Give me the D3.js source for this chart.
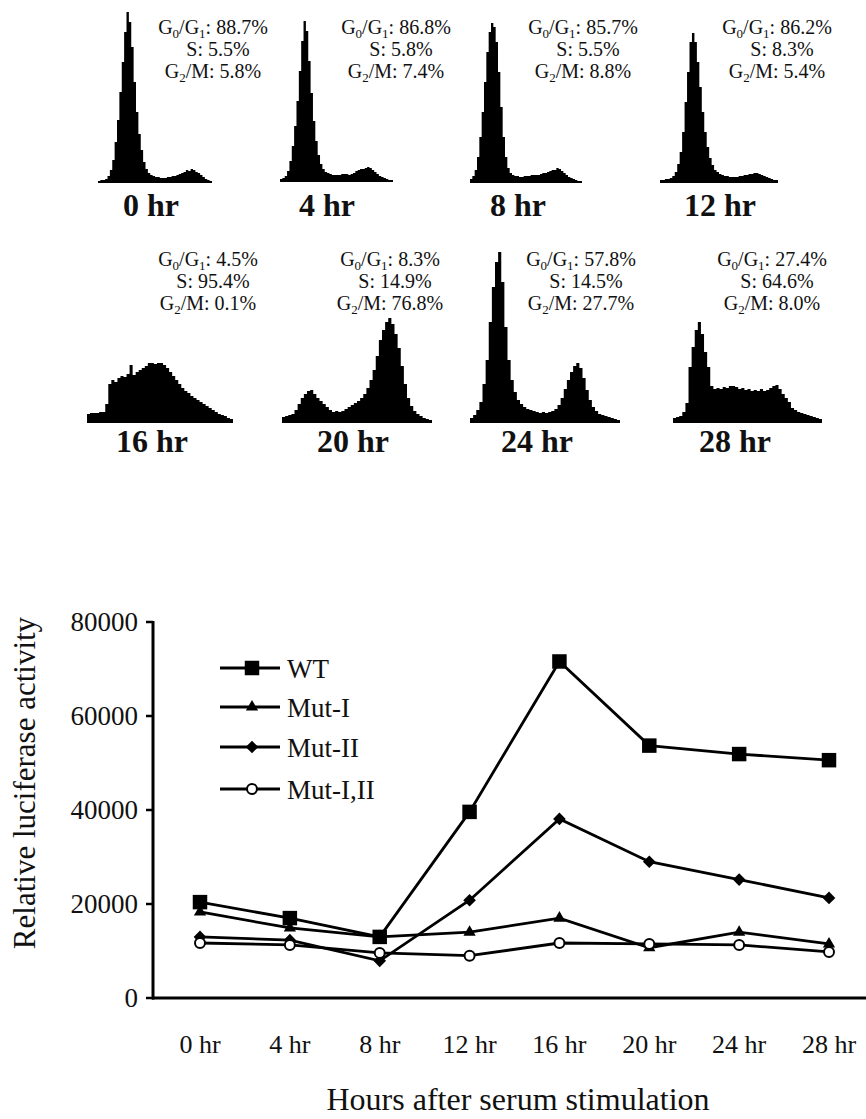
<!DOCTYPE html>
<html>
<head>
<meta charset="utf-8">
<script src="https://cdn.jsdelivr.net/npm/d3@7"></script>
<style>
  body { margin: 0; background: #fff; }
  svg, text { font-family: "Liberation Serif", "Times New Roman", serif; fill: #111; }
</style>
</head>
<body>
<script>
// flow cytometry histograms (relative cell counts per DNA-content bin)
const h0hr  = [1,2,2,3,6,12,22,40,62,90,120,150,170,160,135,100,70,48,32,20,13,9,7,6,5,5,4,4,4,5,5,6,6,7,8,9,10,12,11,13,12,10,9,7,5,3,2,1];
const h4hr  = [2,3,5,10,20,35,55,80,110,140,160,150,120,88,60,40,26,17,12,9,8,7,6,6,6,6,7,7,7,6,7,8,10,11,12,12,13,14,13,11,9,7,5,4,3,2,1,1];
const h8hr  = [3,6,12,25,45,70,100,130,150,159,155,140,110,75,45,25,14,9,7,6,6,5,5,6,6,6,7,7,7,7,8,9,9,10,11,12,12,14,13,11,9,7,5,4,3,2,1,1];
const h12hr = [2,2,3,3,4,6,10,18,30,50,80,110,140,149,140,120,95,70,50,35,24,17,12,10,8,7,6,6,5,5,5,5,6,6,7,7,8,8,9,9,8,7,6,5,4,3,2,2];
const h16hr = [8,9,9,9,10,10,18,38,42,40,44,46,45,48,57,47,50,52,54,56,59,59,58,59,59,57,54,50,46,42,38,34,31,29,26,24,22,20,18,16,14,12,10,8,7,6,4,3];
const h20hr = [5,6,7,8,12,18,24,28,31,32,28,24,21,18,15,12,10,11,10,11,13,15,17,19,21,24,28,34,42,52,66,82,92,100,104,98,88,74,56,38,24,16,11,8,6,4,3,2];
const h24hr = [4,7,12,20,38,62,100,135,160,170,140,95,62,42,30,22,18,15,13,12,11,10,9,10,9,10,11,13,17,24,33,42,50,56,59,54,44,32,22,15,11,8,7,6,5,4,3,2];
const h28hr = [4,5,6,10,19,55,75,92,100,88,70,55,36,33,34,33,35,34,36,36,35,33,34,32,33,31,32,31,33,31,32,34,36,37,33,28,24,20,14,12,10,9,8,7,6,5,4,3];

const g0g1 = ["88.7%", "86.8%", "85.7%", "86.2%", "4.5%", "8.3%", "57.8%", "27.4%"];
const sPh  = ["5.5%", "5.8%", "5.5%", "8.3%", "95.4%", "14.9%", "14.5%", "64.6%"];
const g2m  = ["5.8%", "7.4%", "8.8%", "5.4%", "0.1%", "76.8%", "27.7%", "8.0%"];

// luciferase time course
const hours   = ["0 hr", "4 hr", "8 hr", "12 hr", "16 hr", "20 hr", "24 hr", "28 hr"];
const wt      = [20400, 17000, 13000, 39600, 71600, 53700, 51900, 50600];
const mutI    = [18300, 14900, 13000, 14000, 17000, 10700, 14000, 11500];
const mutII   = [13000, 12300, 7900, 20800, 38100, 29000, 25200, 21300];
const mutI_II = [11700, 11300, 9600, 9000, 11700, 11500, 11300, 9800];
const yTicks  = [0, 20000, 40000, 60000, 80000];

let W = 866, H = 1119;
let svg = d3.select('body').append('svg')
    .attr('width', W)
    .attr('height', H)
    .attr('font-family', '"Liberation Serif", "Times New Roman", serif');

// ---------- histograms ----------
let panels = [
    { data: h0hr,  x0: 98,  x1: 212, base: 182, lx: 151, cx: 213 },
    { data: h4hr,  x0: 280, x1: 393, base: 181, lx: 327, cx: 396 },
    { data: h8hr,  x0: 470, x1: 582, base: 182, lx: 518, cx: 583 },
    { data: h12hr, x0: 660, x1: 778, base: 182, lx: 720, cx: 777 },
    { data: h16hr, x0: 87,  x1: 233, base: 422, lx: 152, cx: 208 },
    { data: h20hr, x0: 282, x1: 432, base: 422, lx: 353, cx: 390 },
    { data: h24hr, x0: 470, x1: 620, base: 422, lx: 537, cx: 581 },
    { data: h28hr, x0: 673, x1: 822, base: 422, lx: 735, cx: 772 }
];

panels.forEach((p, k) => {
    let g = svg.append('g');
    let x = d3.scaleLinear().domain([0, p.data.length]).range([p.x0, p.x1]);
    let y = d3.scaleLinear().domain([0, 170]).range([p.base, p.base - 170]);
    let pts = p.data.map((d, i) => [i, d]).concat([[p.data.length, 0]]);
    let area = d3.area()
        .x(d => x(d[0]))
        .y0(y(0))
        .y1(d => y(d[1]))
        .curve(d3.curveStepAfter);
    g.append('path')
        .datum(pts)
        .attr('d', area)
        .attr('fill', '#000');
    g.append('line')
        .attr('x1', p.x0).attr('x2', p.x1)
        .attr('y1', p.base + 0.5).attr('y2', p.base + 0.5)
        .attr('stroke', '#000').attr('stroke-width', 1.2);

    // time label
    let row = k < 4 ? 0 : 1;
    g.append('text')
        .attr('x', p.lx)
        .attr('y', row ? 452 : 216)
        .attr('text-anchor', 'middle')
        .style('font-size', '32px')
        .style('font-weight', 'bold')
        .text(hours[k]);

    // phase percentages
    let ty = row ? 266 : 34;
    let t1 = g.append('text').attr('x', p.cx).attr('y', ty)
        .attr('text-anchor', 'middle').style('font-size', '20px');
    t1.append('tspan').text('G');
    t1.append('tspan').attr('dy', 4).style('font-size', '13px').text('0');
    t1.append('tspan').attr('dy', -4).text('/G');
    t1.append('tspan').attr('dy', 4).style('font-size', '13px').text('1');
    t1.append('tspan').attr('dy', -4).text(': ' + g0g1[k]);

    g.append('text').attr('x', p.cx + 5).attr('y', ty + 22)
        .attr('text-anchor', 'middle').style('font-size', '20px')
        .text('S: ' + sPh[k]);

    let t3 = g.append('text').attr('x', p.cx).attr('y', ty + 44)
        .attr('text-anchor', 'middle').style('font-size', '20px');
    t3.append('tspan').text('G');
    t3.append('tspan').attr('dy', 4).style('font-size', '13px').text('2');
    t3.append('tspan').attr('dy', -4).text('/M: ' + g2m[k]);
});

// ---------- line chart ----------
let x = d3.scalePoint().domain(hours).range([200, 829]);
let y = d3.scaleLinear().domain([0, 80000]).range([998, 622]);

let chart = svg.append('g');

// y axis
chart.append('line')
    .attr('x1', 153).attr('x2', 153)
    .attr('y1', y(80000) - 1).attr('y2', y(0) + 1.5)
    .attr('stroke', '#000').attr('stroke-width', 3);
chart.selectAll('.ytick')
    .data(yTicks)
    .enter()
    .append('line')
    .attr('x1', 146).attr('x2', 153)
    .attr('y1', d => y(d)).attr('y2', d => y(d))
    .attr('stroke', '#000').attr('stroke-width', 2.5);
chart.selectAll('.ylab')
    .data(yTicks)
    .enter()
    .append('text')
    .attr('x', 138)
    .attr('y', d => y(d) + 9)
    .attr('text-anchor', 'end')
    .style('font-size', '27px')
    .text(d => d);

// x axis
chart.append('line')
    .attr('x1', 152).attr('x2', 866)
    .attr('y1', y(0)).attr('y2', y(0))
    .attr('stroke', '#000').attr('stroke-width', 3);
chart.selectAll('.xlab')
    .data(hours)
    .enter()
    .append('text')
    .attr('x', d => x(d))
    .attr('y', 1053)
    .attr('text-anchor', 'middle')
    .style('font-size', '26px')
    .text(d => d);

chart.append('text')
    .attr('x', 518).attr('y', 1110)
    .attr('text-anchor', 'middle')
    .style('font-size', '32px')
    .text('Hours after serum stimulation');

chart.append('text')
    .attr('transform', 'translate(35,783) rotate(-90)')
    .attr('text-anchor', 'middle')
    .style('font-size', '31px')
    .text('Relative luciferase activity');

let series = [
    { name: 'WT', values: wt, shape: 'square' },
    { name: 'Mut-I', values: mutI, shape: 'triangle' },
    { name: 'Mut-II', values: mutII, shape: 'diamond' },
    { name: 'Mut-I,II', values: mutI_II, shape: 'circle' }
];

function marker(sel, shape) {
    if (shape === 'circle') {
        sel.append('circle').attr('r', 5)
            .attr('fill', '#fff').attr('stroke', '#000').attr('stroke-width', 2);
    } else if (shape === 'diamond') {
        sel.append('path')
            .attr('d', d3.symbol().type(d3.symbolSquare).size(80)())
            .attr('transform', 'rotate(45)')
            .attr('fill', '#000');
    } else {
        let sym = shape === 'square' ? d3.symbolSquare : d3.symbolTriangle;
        let size = shape === 'square' ? 210 : 65;
        sel.append('path')
            .attr('d', d3.symbol().type(sym).size(size)())
            .attr('fill', '#000');
    }
}

let line = d3.line()
    .x((d, i) => x(hours[i]))
    .y(d => y(d));

series.forEach(s => {
    chart.append('path')
        .datum(s.values)
        .attr('d', line)
        .attr('fill', 'none')
        .attr('stroke', '#000')
        .attr('stroke-width', 2.8);
    s.values.forEach((v, i) => {
        let m = chart.append('g')
            .attr('transform', `translate(${x(hours[i])},${y(v)})`);
        marker(m, s.shape);
    });
});

// legend
let legend = chart.append('g');
series.forEach((s, i) => {
    let ly = [668, 707, 747, 789][i];
    legend.append('line')
        .attr('x1', 220).attr('x2', 280)
        .attr('y1', ly).attr('y2', ly)
        .attr('stroke', '#000').attr('stroke-width', 2.8);
    let m = legend.append('g').attr('transform', `translate(252,${ly})`);
    marker(m, s.shape);
    legend.append('text')
        .attr('x', 287).attr('y', ly + 10)
        .style('font-size', '27px')
        .text(s.name);
});
</script>
</body>
</html>
